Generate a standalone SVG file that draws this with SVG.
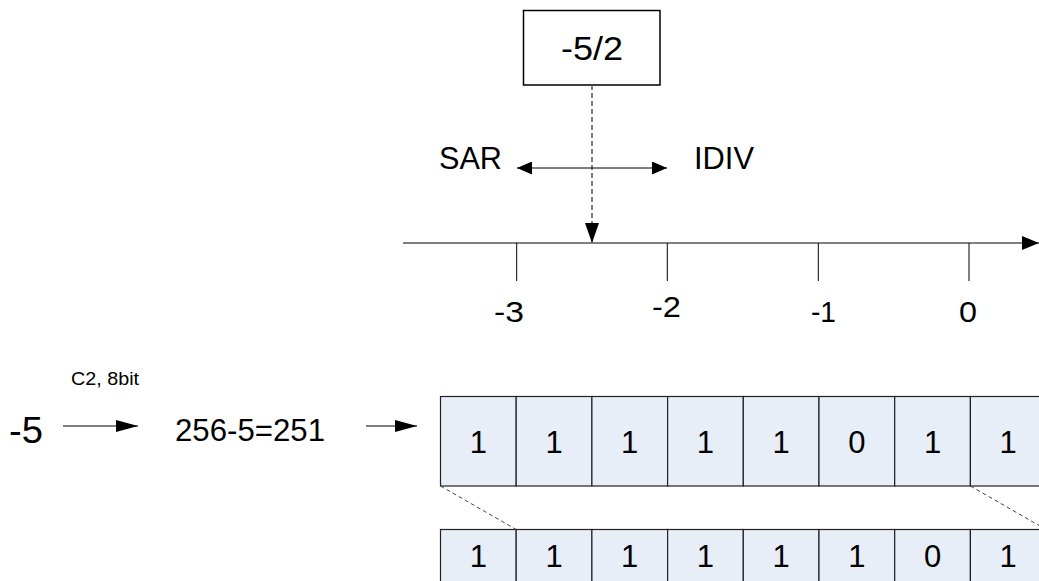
<svg xmlns="http://www.w3.org/2000/svg" width="1039" height="581" viewBox="0 0 1039 581">
<style>
text{font-family:"Liberation Sans",Arial,sans-serif;fill:#000}
.cell{fill:#E8EEF7;stroke:#222;stroke-width:1.2}
.dig{font-size:31px;text-anchor:middle}
.lbl{font-size:30px}
.ln{stroke:#000;stroke-width:1;fill:none}
.dash{stroke:#444;stroke-width:1;stroke-dasharray:4,3;fill:none}
</style>
<defs>
<marker id="mBig" markerUnits="userSpaceOnUse" markerWidth="20" markerHeight="14" refX="20" refY="7" orient="auto"><path d="M0,0 L20,7 L0,14 z" fill="#000"/></marker>
<marker id="mDbl" markerUnits="userSpaceOnUse" markerWidth="15" markerHeight="13" refX="15" refY="6.5" orient="auto-start-reverse"><path d="M0,0 L15,6.5 L0,13 z" fill="#000"/></marker>
<marker id="mAx" markerUnits="userSpaceOnUse" markerWidth="17" markerHeight="14" refX="17" refY="7" orient="auto"><path d="M0,0 L17,7 L0,14 z" fill="#000"/></marker>
<marker id="mSm" markerUnits="userSpaceOnUse" markerWidth="22" markerHeight="12" refX="22" refY="6" orient="auto"><path d="M0,0 L22,6 L0,12 z" fill="#000"/></marker>
</defs>
<rect width="1039" height="581" fill="#fff"/>

<g id="box">
<rect x="523.5" y="10.5" width="136.5" height="74.5" fill="#fff" stroke="#000" stroke-width="1.5"/>
<text x="561" y="60" font-size="34" textLength="62" lengthAdjust="spacingAndGlyphs">-5/2</text>
</g>

<g id="labels">
<text id="sar" x="439" y="169" font-size="31" textLength="63" lengthAdjust="spacingAndGlyphs">SAR</text>
<text id="idiv" x="694" y="169" font-size="31" textLength="60" lengthAdjust="spacingAndGlyphs">IDIV</text>
<text class="lbl" x="494" y="322" textLength="30" lengthAdjust="spacingAndGlyphs">-3</text>
<text class="lbl" x="652" y="317" textLength="29" lengthAdjust="spacingAndGlyphs">-2</text>
<text class="lbl" x="811" y="322" textLength="25" lengthAdjust="spacingAndGlyphs">-1</text>
<text class="lbl" x="959" y="322" textLength="18" lengthAdjust="spacingAndGlyphs">0</text>
<text id="m5" x="9" y="443" font-size="37" textLength="34" lengthAdjust="spacingAndGlyphs">-5</text>
<text id="c2" x="71" y="385" font-size="19" textLength="68" lengthAdjust="spacingAndGlyphs">C2, 8bit</text>
<text id="calc" x="175" y="441" font-size="31" textLength="150" lengthAdjust="spacingAndGlyphs">256-5=251</text>
</g>

<g id="axis">
<line class="ln" x1="403" y1="243" x2="1039" y2="243" marker-end="url(#mAx)"/>
<line class="ln" x1="516.7" y1="243" x2="516.7" y2="281"/>
<line class="ln" x1="667.3" y1="243" x2="667.3" y2="281"/>
<line class="ln" x1="818.3" y1="243" x2="818.3" y2="281"/>
<line class="ln" x1="969" y1="243" x2="969" y2="281"/>
</g>

<g id="row1">
<rect class="cell" x="440.5" y="396.5" width="75.7" height="89.5"/>
<rect class="cell" x="516.2" y="396.5" width="75.7" height="89.5"/>
<rect class="cell" x="591.9" y="396.5" width="75.7" height="89.5"/>
<rect class="cell" x="667.6" y="396.5" width="75.7" height="89.5"/>
<rect class="cell" x="743.3" y="396.5" width="75.7" height="89.5"/>
<rect class="cell" x="819" y="396.5" width="75.7" height="89.5"/>
<rect class="cell" x="894.7" y="396.5" width="75.7" height="89.5"/>
<rect class="cell" x="970.4" y="396.5" width="75.7" height="89.5"/>
<text class="dig" x="478.3" y="453">1</text>
<text class="dig" x="554" y="453">1</text>
<text class="dig" x="629.7" y="453">1</text>
<text class="dig" x="705.4" y="453">1</text>
<text class="dig" x="781.1" y="453">1</text>
<text class="dig" x="856.8" y="453">0</text>
<text class="dig" x="932.5" y="453">1</text>
<text class="dig" x="1008.2" y="453">1</text>
</g>

<g id="row2">
<rect class="cell" x="440.5" y="529.5" width="75.7" height="70"/>
<rect class="cell" x="516.2" y="529.5" width="75.7" height="70"/>
<rect class="cell" x="591.9" y="529.5" width="75.7" height="70"/>
<rect class="cell" x="667.6" y="529.5" width="75.7" height="70"/>
<rect class="cell" x="743.3" y="529.5" width="75.7" height="70"/>
<rect class="cell" x="819" y="529.5" width="75.7" height="70"/>
<rect class="cell" x="894.7" y="529.5" width="75.7" height="70"/>
<rect class="cell" x="970.4" y="529.5" width="75.7" height="70"/>
<text class="dig" x="478.3" y="567">1</text>
<text class="dig" x="554" y="567">1</text>
<text class="dig" x="629.7" y="567">1</text>
<text class="dig" x="705.4" y="567">1</text>
<text class="dig" x="781.1" y="567">1</text>
<text class="dig" x="856.8" y="567">1</text>
<text class="dig" x="932.5" y="567">0</text>
<text class="dig" x="1008.2" y="567">1</text>
</g>

<g id="connectors">
<line x1="592" y1="85" x2="592" y2="243" stroke="#555" stroke-width="1.5" stroke-dasharray="5,3" marker-end="url(#mBig)"/>
<line class="ln" x1="517" y1="168" x2="667" y2="168" marker-start="url(#mDbl)" marker-end="url(#mDbl)"/>
<line class="ln" x1="63" y1="426" x2="138" y2="426" marker-end="url(#mSm)"/>
<line class="ln" x1="366" y1="426" x2="417" y2="426" marker-end="url(#mSm)"/>
<line class="dash" x1="440.5" y1="486" x2="516.2" y2="529.5"/>
<line class="dash" x1="970.4" y1="486" x2="1046" y2="529.5"/>
</g>
</svg>
